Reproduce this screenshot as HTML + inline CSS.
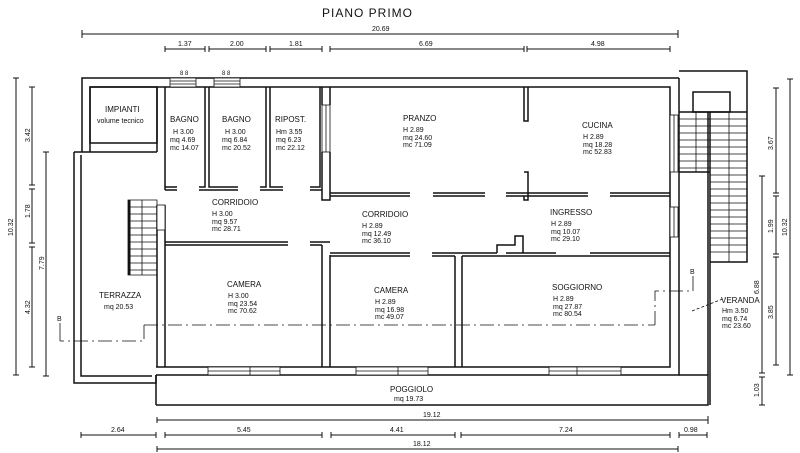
<!DOCTYPE html>
<html><head><meta charset="utf-8"><style>
html,body{margin:0;padding:0;background:#fff;}
svg{display:block;font-family:"Liberation Sans",sans-serif;}
text{fill:#111;}
.t{font-size:8px;}
.s{font-size:7px;}
.d{font-size:7px;}
</style></head><body>
<svg width="800" height="453" viewBox="0 0 800 453" xmlns="http://www.w3.org/2000/svg">
<rect width="800" height="453" fill="#fff"/>
<text x="322" y="17" font-size="12" letter-spacing="1">PIANO  PRIMO</text>

<g stroke="#111" fill="none" stroke-width="1">
<line x1="82" y1="34" x2="678" y2="34"/><line x1="82" y1="30" x2="82" y2="38"/><line x1="678" y1="30" x2="678" y2="38"/>
<line x1="165" y1="49" x2="205" y2="49"/><line x1="209" y1="49" x2="266" y2="49"/><line x1="270" y1="49" x2="322" y2="49"/><line x1="330" y1="49" x2="524" y2="49"/><line x1="527" y1="49" x2="670" y2="49"/>
<path d="M165 46v6M205 46v6M209 46v6M266 46v6M270 46v6M322 46v6M330 46v6M524 46v6M527 46v6M670 46v6"/>
<line x1="16" y1="78" x2="16" y2="375"/><path d="M13 78h6M13 375h6"/>
<line x1="32" y1="87" x2="32" y2="185"/><line x1="32" y1="189" x2="32" y2="243"/><line x1="32" y1="247" x2="32" y2="367"/><path d="M29 87h6M29 185h6M29 189h6M29 243h6M29 247h6M29 367h6"/>
<line x1="46" y1="152" x2="46" y2="376"/><path d="M43 152h6M43 376h6"/>
<line x1="790" y1="79" x2="790" y2="375"/><path d="M787 79h6M787 375h6"/>
<line x1="776" y1="88" x2="776" y2="193"/><line x1="776" y1="196" x2="776" y2="254"/><line x1="776" y1="257" x2="776" y2="365"/><path d="M773 88h6M773 193h6M773 196h6M773 254h6M773 257h6M773 365h6"/>
<line x1="762" y1="176" x2="762" y2="373"/><line x1="762" y1="377" x2="762" y2="405"/><path d="M759 176h6M759 373h6M759 377h6M759 405h6"/>
<line x1="157" y1="420" x2="708" y2="420"/><path d="M157 417v6M708 416v8"/>
<line x1="81" y1="435" x2="156" y2="435"/><line x1="165" y1="435" x2="322" y2="435"/><line x1="331" y1="435" x2="455" y2="435"/><line x1="461" y1="435" x2="670" y2="435"/><line x1="679" y1="435" x2="707" y2="435"/>
<path d="M81 432v6M156 432v6M165 432v6M322 432v6M331 432v6M455 432v6M461 432v6M670 432v6M679 432v6M707 432v6"/>
<line x1="157" y1="449" x2="678" y2="449"/><path d="M157 446v6M678 446v6"/>
</g>
<g class="d">
<text x="372" y="31">20.69</text>
<text x="178" y="46">1.37</text><text x="230" y="46">2.00</text><text x="289" y="46">1.81</text><text x="419" y="46">6.69</text><text x="591" y="46">4.98</text>
<text x="423" y="417">19.12</text><text x="413" y="446">18.12</text>
<text x="111" y="432">2.64</text><text x="237" y="432">5.45</text><text x="390" y="432">4.41</text><text x="559" y="432">7.24</text><text x="684" y="432">0.98</text>
<text transform="translate(13,236) rotate(-90)">10.32</text>
<text transform="translate(30,142) rotate(-90)">3.42</text>
<text transform="translate(30,218) rotate(-90)">1.78</text>
<text transform="translate(30,314) rotate(-90)">4.32</text>
<text transform="translate(44,270) rotate(-90)">7.79</text>
<text transform="translate(787,236) rotate(-90)">10.32</text>
<text transform="translate(773,150) rotate(-90)">3.67</text>
<text transform="translate(773,233) rotate(-90)">1.99</text>
<text transform="translate(773,319) rotate(-90)">3.85</text>
<text transform="translate(759,294) rotate(-90)">6.88</text>
<text transform="translate(759,397) rotate(-90)">1.03</text>
</g>

<g stroke="#111" fill="none" stroke-width="1.5">
<path d="M82 152V78H679"/>
<path d="M90 152V87H670V367H156"/>
<path d="M679 78V375H156"/>
<path d="M74 152V383H156V375"/>
<path d="M81 155V376H152"/>
<line x1="74" y1="152" x2="157" y2="152"/>
<line x1="156" y1="375" x2="156" y2="405"/>
<path d="M156 405H708V375H679"/>
<line x1="710" y1="112" x2="710" y2="405"/>
<line x1="708" y1="112" x2="708" y2="375"/>
<rect x="90" y="87" width="67" height="56"/>
<path d="M157 87V152M165 87V190M157 205V367M165 205V367"/>
<path d="M165 190H177M165 187H177M199 190H238M199 187H205V87M209 87V187H238"/>
<path d="M260 187H266V87M270 87V187H283M260 190H283"/>
<path d="M310 187H320V87M322 87V105M330 87V105M322 152V200H330V152M310 190H322"/>
<path d="M165 242H288M165 245H288M310 242H330M310 245H322"/>
<path d="M322 245V367M330 255V367"/>
<path d="M524 87V121H528V87"/>
<path d="M524 172H528V193M524 196V200H528V172"/>
<path d="M330 193H410M330 196H410M433 193H485M433 196H485M506 193H588M506 196H588M610 193H670M610 196H670"/>
<path d="M330 253H410M330 256H410M432 253H497M432 256H455M462 256H670M506 253H556M590 253H670"/>
<path d="M497 253V245H515V236H523V253"/>
<path d="M455 256V367M462 256V367"/>
<path d="M679 71H747V262H710"/>
<rect x="693" y="92" width="37" height="20"/>
<path d="M679 112H747M679 172H710"/>
</g>
<g stroke="#111" stroke-width="0.8" fill="none">
<path d="M679 119H747M679 126H747M679 133H747M679 140H747M679 147H747M679 154H747M679 161H747M679 168H747M710 175H747M710 182H747M710 189H747M710 196H747M710 203H747M710 210H747M710 217H747M710 224H747M710 231H747M710 238H747M710 245H747M710 252H747"/>
<path d="M696 112V172M729 112V262"/>
<path d="M128 200H157V275H128ZM142 200V275M128 207H157M128 214H157M128 221H157M128 228H157M128 235H157M128 242H157M128 249H157M128 256H157M128 263H157M128 270H157"/>
</g>
<rect x="128" y="200" width="2.5" height="75" fill="#111"/>
<g stroke="#111" stroke-width="0.8" fill="#fff">
<rect x="170" y="78" width="26" height="9"/><rect x="214" y="78" width="26" height="9"/>
<path d="M170 81H196M170 84H196M214 81H240M214 84H240"/>
<rect x="208" y="367" width="72" height="8"/><path d="M208 371H280M250 367V375"/>
<rect x="356" y="367" width="72" height="8"/><path d="M356 371H428M398 367V375"/>
<rect x="549" y="367" width="72" height="8"/><path d="M549 371H621M577 367V375"/>
<rect x="322" y="105" width="8" height="47"/><path d="M326 105V152"/>
<rect x="670" y="115" width="8" height="57"/><path d="M674 115V172"/>
<rect x="670" y="207" width="8" height="30"/><path d="M674 207V237"/>
<rect x="157" y="205" width="8" height="25"/>
</g>
<text x="180" y="75" font-size="6">8 8</text><text x="222" y="75" font-size="6">8 8</text>
<g stroke="#111" stroke-width="0.8" fill="none" stroke-dasharray="14 4 2 4">
<path d="M144 325H655"/><path d="M144 325V341H60"/><path d="M655 325V291H693"/>
</g>
<path d="M60 341V323M693 291V276" stroke="#111" stroke-width="0.8"/>
<path d="M692 311L725 298" stroke="#111" stroke-width="0.8" stroke-dasharray="3 2"/>
<text x="57" y="321" class="s">B</text><text x="690" y="274" class="s">B</text>

<g class="t">
<text x="105" y="112">IMPIANTI</text><text x="97" y="123" class="s">volume tecnico</text>
<text x="170" y="122">BAGNO</text>
<text x="222" y="122">BAGNO</text>
<text x="275" y="122">RIPOST.</text>
<text x="403" y="121">PRANZO</text>
<text x="582" y="128">CUCINA</text>
<text x="212" y="205">CORRIDOIO</text>
<text x="362" y="217">CORRIDOIO</text>
<text x="550" y="215">INGRESSO</text>
<text x="227" y="287">CAMERA</text>
<text x="374" y="293">CAMERA</text>
<text x="552" y="290">SOGGIORNO</text>
<text x="99" y="298">TERRAZZA</text>
<text x="721" y="303">VERANDA</text>
<text x="390" y="392">POGGIOLO</text>
</g>
<g class="s">
<text x="173" y="134">H  3.00</text><text x="170" y="142">mq  4.69</text><text x="170" y="150">mc  14.07</text>
<text x="225" y="134">H  3.00</text><text x="222" y="142">mq  6.84</text><text x="222" y="150">mc  20.52</text>
<text x="276" y="134">Hm  3.55</text><text x="276" y="142">mq  6.23</text><text x="276" y="150">mc  22.12</text>
<text x="403" y="132">H  2.89</text><text x="403" y="140">mq  24.60</text><text x="403" y="147">mc  71.09</text>
<text x="583" y="139">H  2.89</text><text x="583" y="147">mq  18.28</text><text x="583" y="154">mc  52.83</text>
<text x="212" y="216">H  3.00</text><text x="212" y="224">mq  9.57</text><text x="212" y="231">mc  28.71</text>
<text x="362" y="228">H  2.89</text><text x="362" y="236">mq  12.49</text><text x="362" y="243">mc  36.10</text>
<text x="551" y="226">H  2.89</text><text x="551" y="234">mq  10.07</text><text x="551" y="241">mc  29.10</text>
<text x="228" y="298">H  3.00</text><text x="228" y="306">mq  23.54</text><text x="228" y="313">mc  70.62</text>
<text x="375" y="304">H  2.89</text><text x="375" y="312">mq  16.98</text><text x="375" y="319">mc  49.07</text>
<text x="553" y="301">H  2.89</text><text x="553" y="309">mq  27.87</text><text x="553" y="316">mc  80.54</text>
<text x="104" y="309">mq  20.53</text>
<text x="722" y="313">Hm  3.50</text><text x="722" y="321">mq  6.74</text><text x="722" y="328">mc  23.60</text>
<text x="394" y="401">mq  19.73</text>
</g>
</svg>
</body></html>
